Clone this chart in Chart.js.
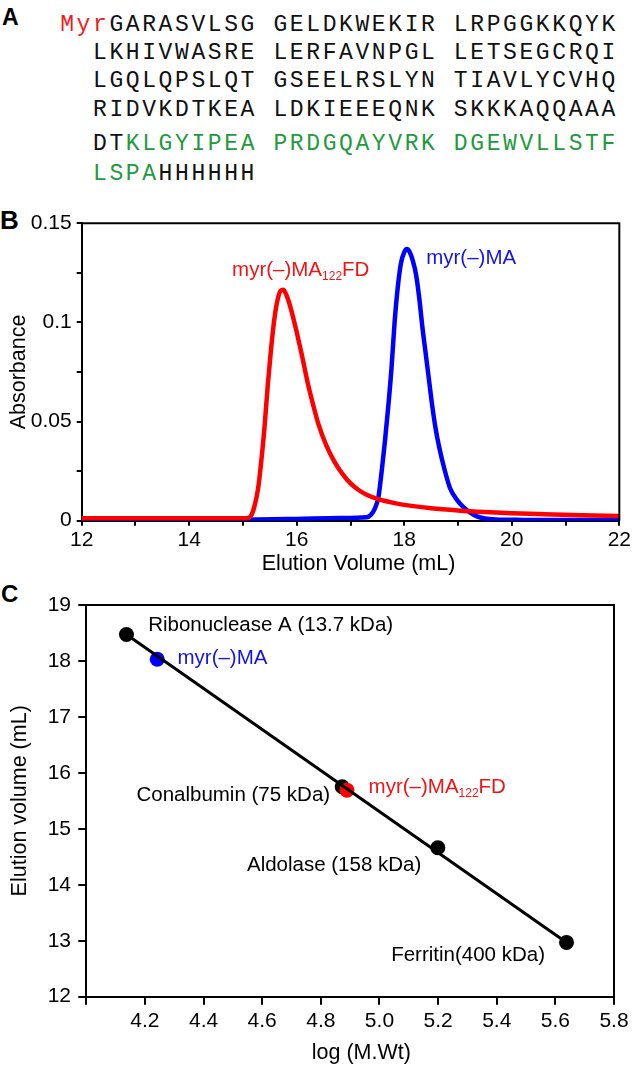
<!DOCTYPE html>
<html>
<head>
<meta charset="utf-8">
<script src="https://cdn.jsdelivr.net/npm/chart.js@4.4.1/dist/chart.umd.min.js"></script>
<style>
html,body{margin:0;padding:0;background:#fff;}
body{width:633px;height:1068px;position:relative;overflow:hidden;font-family:'Liberation Sans',Arial,sans-serif;}
.tag{position:absolute;font-weight:bold;color:#000;white-space:pre;}
.seq{position:absolute;font-family:'Liberation Mono',monospace;font-size:23px;line-height:23px;letter-spacing:2.6px;white-space:pre;color:#111;}
.seq .r{color:#ee1c1c}
.seq .g{color:#1f9a3e}
.panel{position:absolute;left:0;}
</style>
</head>
<body>
<div class="tag" style="left:2px;top:5.8px;font-size:23px;line-height:23px">A</div>
<div id="seqA"></div>
<div class="tag" style="left:0px;top:207.3px;font-size:26px;line-height:26px">B</div>
<div class="panel" style="top:195px"><canvas id="chartB" width="633" height="380"></canvas></div>
<div class="tag" style="left:1px;top:582.3px;font-size:24px;line-height:24px">C</div>
<div class="panel" style="top:585px"><canvas id="chartC" width="633" height="479"></canvas></div>

<script>
// ====== Panel A: sequence ======
// each line: list of [text, colour class]
const seqLines = [
  [['Myr','r'],['GARASVLSG GELDKWEKIR LRPGGKKQYK','']],
  [['LKHIVWASRE LERFAVNPGL LETSEGCRQI','']],
  [['LGQLQPSLQT GSEELRSLYN TIAVLYCVHQ','']],
  [['RIDVKDTKEA LDKIEEEQNK SKKKAQQAAA','']],
  [['DT',''],['KLGYIPEA PRDGQAYVRK DGEWVLLSTF','g']],
  [['LSPA','g'],['HHHHHH','']]
];
const seqTop = [13.7, 42, 70.3, 99, 133.3, 162.8];

// ====== Panel B: elution profiles ======
const redVol = [12, 14, 15.0, 15.1, 15.16, 15.22, 15.28, 15.34, 15.4, 15.46, 15.52, 15.58, 15.64, 15.7, 15.75, 15.82, 15.9, 16.0, 16.1, 16.2, 16.3, 16.4, 16.55, 16.7, 16.85, 17.0, 17.15, 17.3, 17.5, 17.8, 18.1, 18.5, 19.0, 19.5, 20.0, 20.6, 21.3, 22];
const redAbs = [0.0012, 0.0012, 0.0012, 0.0014, 0.003, 0.008, 0.016, 0.030, 0.047, 0.068, 0.086, 0.101, 0.111, 0.116, 0.1165, 0.113, 0.106, 0.095, 0.083, 0.070, 0.059, 0.049, 0.038, 0.0298, 0.0236, 0.0188, 0.0155, 0.0131, 0.0110, 0.0090, 0.0076, 0.0063, 0.0052, 0.0044, 0.0038, 0.0033, 0.0028, 0.0024];
const blueVol = [12, 14, 15, 16, 16.8, 17.3, 17.38, 17.45, 17.52, 17.58, 17.64, 17.7, 17.76, 17.82, 17.88, 17.94, 18.0, 18.05, 18.1, 18.16, 18.22, 18.28, 18.34, 18.4, 18.46, 18.52, 18.58, 18.65, 18.75, 18.85, 18.98, 19.1, 19.22, 19.35, 19.5, 19.7, 20.2, 21, 22];
const blueAbs = [0.0003, 0.0004, 0.0005, 0.0009, 0.0013, 0.0017, 0.003, 0.006, 0.012, 0.025, 0.040, 0.057, 0.076, 0.100, 0.118, 0.130, 0.1355, 0.137, 0.1355, 0.131, 0.124, 0.112, 0.097, 0.084, 0.071, 0.058, 0.047, 0.037, 0.0257, 0.0165, 0.0105, 0.0068, 0.0042, 0.0022, 0.0011, 0.0006, 0.0004, 0.0003, 0.0003];

// ====== Panel C: calibration ======
const stdNames = ['Ribonuclease A (13.7 kDa)', 'Conalbumin (75 kDa)', 'Aldolase (158 kDa)', 'Ferritin(400 kDa)'];
const stdLogMw = [4.137, 4.873, 5.199, 5.638];
const stdVol   = [18.47, 15.75, 14.66, 12.97];
const sampleNames  = ['myr(–)MA', 'myr(–)MA122FD'];
const sampleLogMw  = [4.242, 4.889];
const sampleVol    = [18.03, 15.69];
const fitLogMw = [4.137, 5.638];
const fitVol   = [18.47, 12.97];

const RED = '#ff0000', BLUE = '#0000ff', RED_T = '#f01414', BLUE_T = '#1414e6';

// render sequence
const seqBox = document.getElementById('seqA');
seqLines.forEach((ln,i)=>{
  const d = document.createElement('div');
  d.className = 'seq';
  d.style.top = seqTop[i]+'px';
  d.style.left = (i===0 ? 93-2*16.4 : 93)+'px';
  d.innerHTML = ln.map(p=>`<span class="${p[1]}">${p[0]}</span>`).join('');
  seqBox.appendChild(d);
});

// ====== helpers ======
Chart.defaults.font.family = "'Liberation Sans', Arial, sans-serif";
Chart.defaults.color = '#000';
const pts = (xs,ys)=> xs.map((v,i)=>({x:v, y:ys[i]}));

// label with optional subscript, e.g. 'myr(–)MA' + '122' + 'FD'
function richText(ctx, txt, x, y, size){
  const m = txt.match(/^(.*MA)(122)(FD)$/);
  ctx.font = size+'px "Liberation Sans", Arial, sans-serif';
  if(!m){ ctx.fillText(txt, x, y); return; }
  ctx.fillText(m[1], x, y); x += ctx.measureText(m[1]).width;
  ctx.font = '12px "Liberation Sans", Arial, sans-serif';
  ctx.fillText(m[2], x, y+4); x += ctx.measureText(m[2]).width;
  ctx.font = size+'px "Liberation Sans", Arial, sans-serif';
  ctx.fillText(m[3], x, y);
}

const boxPlugin = { id:'box', afterDraw(c){
  const a=c.chartArea, ctx=c.ctx; ctx.save(); ctx.strokeStyle='#000'; ctx.lineWidth=2;
  ctx.beginPath(); ctx.moveTo(a.left,a.top); ctx.lineTo(a.right,a.top); ctx.lineTo(a.right,a.bottom); ctx.stroke(); ctx.restore();
}};

// annotations: {text,color,x,y} in data units, y = baseline
const notePlugin = { id:'notes', afterDatasetsDraw(c, args, opts){
  const ctx=c.ctx, sx=c.scales.x, sy=c.scales.y;
  ctx.save(); ctx.textBaseline='alphabetic'; ctx.textAlign='left';
  (opts.items||[]).forEach(n=>{ ctx.fillStyle=n.color; richText(ctx, n.text, sx.getPixelForValue(n.x), sy.getPixelForValue(n.y), 20.5); });
  if(opts.xTitle){
    ctx.fillStyle='#000'; ctx.textAlign='center'; ctx.textBaseline='middle';
    ctx.font='21.5px "Liberation Sans", Arial, sans-serif';
    ctx.fillText(opts.xTitle.text, sx.getPixelForValue(opts.xTitle.at), c.chartArea.bottom+opts.xTitle.dy);
  }
  ctx.restore();
}};

// ====== Chart B ======
new Chart(document.getElementById('chartB'), {
  type:'line',
  data:{ datasets:[
    {label:sampleNames[1], data:pts(redVol,redAbs), borderColor:RED, borderWidth:4.5, pointRadius:0, fill:false, cubicInterpolationMode:'monotone', borderJoinStyle:'round', borderCapStyle:'round'},
    {label:sampleNames[0], data:pts(blueVol,blueAbs), borderColor:BLUE, borderWidth:4.5, pointRadius:0, fill:false, cubicInterpolationMode:'monotone', borderJoinStyle:'round', borderCapStyle:'round'}
  ]},
  options:{
    responsive:false, animation:false,
    layout:{ autoPadding:false, padding:{left:0, right:9.3, top:28.3, bottom:0} },
    plugins:{ legend:{display:false}, tooltip:{enabled:false},
      notes:{ items:[
        {text:sampleNames[1], color:RED_T, x:14.797, y:0.1235},
        {text:sampleNames[0], color:BLUE_T, x:18.408, y:0.1294}
      ], xTitle:{text:'Elution Volume (mL)', at:17.15, dy:43.3} } },
    scales:{
      x:{ type:'linear', min:12, max:22,
        ticks:{stepSize:1, autoSkip:false, maxRotation:0, padding:2, font:{size:21}, color:'#000', callback:v=> v%2===0 ? String(v) : ''},
        grid:{drawOnChartArea:false, tickLength:5, color:'#000', lineWidth:2},
        border:{color:'#000', width:2},
        afterFit:s=>{ s.height=54.3; } },
      y:{ min:0, max:0.15,
        ticks:{stepSize:0.025, padding:5, font:{size:21}, color:'#000', callback:v=>{ const k=Math.round(v*1000); return k%50===0 ? String(k/1000) : ''; }},
        grid:{drawOnChartArea:false, tickLength:5, color:'#000', lineWidth:2},
        border:{color:'#000', width:2},
        title:{display:true, text:'Absorbance', color:'#000', font:{size:21.5, lineHeight:1}, padding:{top:8.3, bottom:0}},
        afterFit:s=>{ s.width=81.7; } }
    }
  },
  plugins:[boxPlugin, notePlugin]
});

// ====== Chart C ======
new Chart(document.getElementById('chartC'), {
  type:'scatter',
  data:{ datasets:[
    {label:'fit', data:pts(fitLogMw,fitVol), showLine:true, borderColor:'#000', borderWidth:3, pointRadius:0, order:0},
    {label:'samples', data:pts(sampleLogMw,sampleVol), backgroundColor:[BLUE,RED], borderWidth:0, pointRadius:7.5, order:1},
    {label:'standards', data:pts(stdLogMw,stdVol), backgroundColor:'#000', borderWidth:0, pointRadius:7.5, order:2}
  ]},
  options:{
    responsive:false, animation:false,
    layout:{ autoPadding:false, padding:{left:0, right:18.3, top:16.7, bottom:0} },
    plugins:{ legend:{display:false}, tooltip:{enabled:false},
      notes:{ items:[
        {text:stdNames[0], color:'#000', x:4.211, y:18.534},
        {text:sampleNames[0], color:BLUE_T, x:4.311, y:17.949},
        {text:stdNames[1], color:'#000', x:4.171, y:15.504},
        {text:sampleNames[1], color:RED_T, x:4.963, y:15.645},
        {text:stdNames[2], color:'#000', x:4.548, y:14.246},
        {text:stdNames[3], color:'#000', x:5.040, y:12.633}
      ], xTitle:{text:'log (M.Wt)', at:4.938, dy:56.3} } },
    scales:{
      x:{ type:'linear', min:4.0, max:5.8,
        ticks:{stepSize:0.2, autoSkip:false, maxRotation:0, padding:4.4, font:{size:21}, color:'#000', callback:v=> v<4.1 ? '' : v.toFixed(1)},
        grid:{drawOnChartArea:false, tickLength:8, color:'#000', lineWidth:2},
        border:{color:'#000', width:2},
        afterFit:s=>{ s.height=67.3; } },
      y:{ min:12, max:19,
        ticks:{stepSize:1, padding:7.3, font:{size:21}, color:'#000'},
        grid:{drawOnChartArea:false, tickLength:8, color:'#000', lineWidth:2},
        border:{color:'#000', width:2},
        title:{display:true, text:'Elution volume (mL)', color:'#000', font:{size:21.5, lineHeight:1}, padding:{top:9.3, bottom:0}},
        afterFit:s=>{ s.width=86.3; } }
    }
  },
  plugins:[boxPlugin, notePlugin]
});
</script>
</body>
</html>
